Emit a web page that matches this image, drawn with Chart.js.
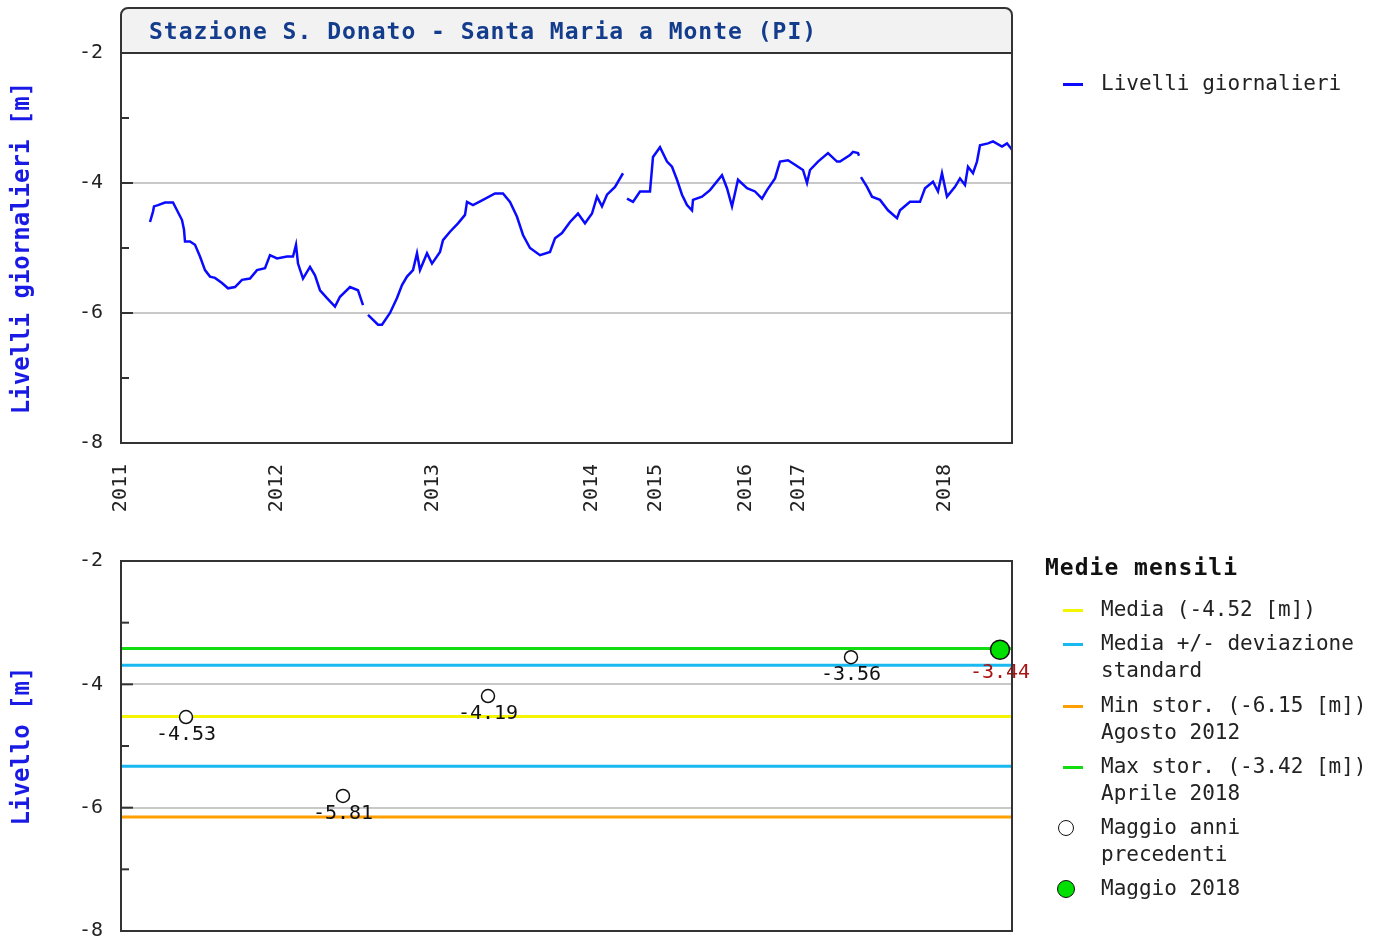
<!DOCTYPE html>
<html>
<head>
<meta charset="utf-8">
<script src="https://cdn.jsdelivr.net/npm/chart.js@4.4.1/dist/chart.umd.min.js"></script>
<style>
  body { margin: 0; background: #fff; overflow: hidden; }
  #wrap { position: relative; width: 1382px; height: 943px; overflow: hidden; font-family: "DejaVu Sans Mono", monospace; color: #222; }
  canvas { position: absolute; left: 0; }
  .leg { position: absolute; font-size: 21px; line-height: 27px; white-space: pre; }
  .sw { position: absolute; width: 20px; height: 3px; }
  .dot { position: absolute; border-radius: 50%; box-sizing: border-box; border: 1.5px solid #111; }
</style>
</head>
<body>
<div id="wrap">
  <canvas id="chart-daily" width="1382" height="530" style="top:0"></canvas>
  <canvas id="chart-monthly" width="1382" height="431" style="top:530px"></canvas>

  <!-- legenda grafico giornaliero -->
  <div class="sw" style="left:1063px;top:83px;background:#0a0aff"></div>
  <div class="leg" style="left:1101px;top:70px">Livelli giornalieri</div>

  <!-- legenda medie mensili -->
  <div class="leg" style="left:1045px;top:554px;font-weight:bold;font-size:23px;letter-spacing:1px;color:#111">Medie mensili</div>
  <div class="sw" style="left:1063px;top:609px;background:#f5f500"></div>
  <div class="leg" style="left:1101px;top:596px">Media (-4.52 [m])</div>
  <div class="sw" style="left:1063px;top:643px;background:#18b8f0"></div>
  <div class="leg" style="left:1101px;top:630px">Media +/- deviazione
standard</div>
  <div class="sw" style="left:1063px;top:705px;background:#ffa000"></div>
  <div class="leg" style="left:1101px;top:692px">Min stor. (-6.15 [m])
Agosto 2012</div>
  <div class="sw" style="left:1063px;top:766px;background:#11dd11"></div>
  <div class="leg" style="left:1101px;top:753px">Max stor. (-3.42 [m])
Aprile 2018</div>
  <div class="dot" style="left:1058px;top:820px;width:16px;height:16px;background:#fff"></div>
  <div class="leg" style="left:1101px;top:814px">Maggio anni
precedenti</div>
  <div class="dot" style="left:1057px;top:880px;width:18px;height:18px;background:#00e000"></div>
  <div class="leg" style="left:1101px;top:875px">Maggio 2018</div>
</div>

<script>
// --- dati: livelli giornalieri (indice progressivo delle registrazioni) ---
const indiceGiorni = [
  29, 32, 33, 37, 44, 52, 56, 61, 63, 64, 69, 74, 79, 84, 89, 94, 101, 107, 114, 121,
  129, 136, 144, 149, 156, 166, 172, 175, 177, 182, 189, 194, 199, 206, 214, 219, 229, 237, 242,
  244,
  247, 257, 261, 269, 276, 281, 286, 292, 296, 299, 306, 311, 319, 322, 329, 337, 344, 346, 352,
  362, 374, 382, 389, 396, 402, 409, 419, 429, 434, 441, 449, 457, 464, 471, 476, 481, 486, 494, 502,
  504,
  506, 512, 519, 529, 532, 539, 546, 551, 556, 561, 566, 571, 572, 581, 589, 601, 606, 611, 617,
  626, 634, 641, 646, 654, 659, 667, 674, 682, 686, 689, 697, 707, 716, 719, 729, 732, 737, 738,
  739,
  740, 746, 751, 759, 767, 776, 779, 789, 799, 804, 812, 817, 821, 826, 834, 839, 844, 847, 852,
  856, 859, 867, 872, 881, 886, 891
];
const livelliGiornalieri = [
  -4.60, -4.44, -4.36, -4.34, -4.30, -4.30, -4.42, -4.57, -4.72, -4.90, -4.90, -4.95, -5.13, -5.34, -5.44, -5.46, -5.54, -5.62, -5.60, -5.49,
  -5.47, -5.34, -5.31, -5.11, -5.16, -5.13, -5.13, -4.95, -5.24, -5.47, -5.29, -5.42, -5.65, -5.77, -5.90, -5.75, -5.60, -5.65, -5.88,
  null,
  -6.03, -6.18, -6.18, -6.00, -5.77, -5.57, -5.44, -5.34, -5.08, -5.34, -5.08, -5.24, -5.06, -4.88, -4.75, -4.62, -4.49, -4.29, -4.34,
  -4.26, -4.16, -4.16, -4.29, -4.52, -4.80, -5.00, -5.11, -5.06, -4.85, -4.77, -4.60, -4.47, -4.62, -4.47, -4.21, -4.36, -4.18, -4.06, -3.85,
  null,
  -4.24, -4.29, -4.13, -4.13, -3.60, -3.45, -3.67, -3.75, -3.95, -4.18, -4.34, -4.42, -4.26, -4.21, -4.11, -3.88, -4.08, -4.36, -3.95,
  -4.08, -4.13, -4.24, -4.11, -3.93, -3.67, -3.65, -3.72, -3.80, -4.00, -3.80, -3.67, -3.54, -3.67, -3.67, -3.57, -3.52, -3.54, -3.58,
  null,
  -3.91, -4.06, -4.21, -4.26, -4.42, -4.54, -4.42, -4.29, -4.29, -4.08, -3.98, -4.13, -3.85, -4.21, -4.06, -3.93, -4.03, -3.75, -3.85,
  -3.67, -3.42, -3.39, -3.36, -3.44, -3.39, -3.49
];
const anniEtichette = ['2011', '2012', '2013', '2014', '2015', '2016', '2017', '2018'];
const anniIndice = [0, 156, 312, 471, 535, 625, 678, 824];

// --- dati: medie mensili di maggio ---
const maggioAnni = [2011, 2012, 2013, 2017, 2018];
const maggioIndice = [65, 222, 367, 730, 879];
const maggioLivelli = [-4.53, -5.81, -4.19, -3.56, -3.44];
const media = -4.52;
const mediaPiuDev = -3.69;
const mediaMenoDev = -5.33;
const minStorico = -6.15;
const maxStorico = -3.42;

const FONT = '"DejaVu Sans Mono", monospace';
const X_MAX = 891;

// griglia solo sui valori pari, tacche interne su tutti gli interi
function gridColor(c) {
  const v = c.tick.value;
  if (v === -2 || v === -8) return 'rgba(0,0,0,0)';
  return v % 2 === 0 ? '#c8c8c8' : 'rgba(0,0,0,0)';
}

const boxPlugin = {
  id: 'box',
  beforeDraw(chart, args, opts) {
    const { ctx, chartArea: a } = chart;
    if (opts.title) {
      ctx.save();
      ctx.fillStyle = '#f2f2f2';
      ctx.beginPath();
      ctx.roundRect(a.left, 8, a.right - a.left, a.top - 8, [7, 7, 0, 0]);
      ctx.fill();
      ctx.restore();
    }
  },
  afterDraw(chart, args, opts) {
    const { ctx, chartArea: a } = chart;
    ctx.save();
    ctx.strokeStyle = '#333';
    ctx.lineWidth = 2;
    // tacche interne dell'asse y
    chart.scales.y.ticks.forEach(t => {
      const py = chart.scales.y.getPixelForValue(t.value);
      const len = t.value % 2 === 0 ? 12 : 8;
      ctx.beginPath();
      ctx.moveTo(a.left, py);
      ctx.lineTo(a.left + len, py);
      ctx.stroke();
    });
    ctx.beginPath();
    if (opts.title) {
      ctx.roundRect(a.left, 8, a.right - a.left, a.bottom - 8, [7, 7, 0, 0]);
      ctx.moveTo(a.left, a.top);
      ctx.lineTo(a.right, a.top);
    } else {
      ctx.rect(a.left, a.top, a.right - a.left, a.bottom - a.top);
    }
    ctx.stroke();
    if (opts.title) {
      ctx.fillStyle = '#143c8c';
      ctx.font = 'bold 23px ' + FONT;
      ctx.letterSpacing = '1px';
      ctx.textBaseline = 'middle';
      ctx.fillText(opts.title, 149, 33);
    }
    ctx.restore();
  }
};

const pointLabels = {
  id: 'pointLabels',
  afterDatasetsDraw(chart) {
    const { ctx } = chart;
    const meta = chart.getDatasetMeta(0);
    ctx.save();
    ctx.font = '20px ' + FONT;
    ctx.textAlign = 'center';
    ctx.textBaseline = 'middle';
    meta.data.forEach((el, i) => {
      const ultimo = i === maggioLivelli.length - 1;
      ctx.fillStyle = ultimo ? '#a81414' : '#111';
      ctx.fillText(maggioLivelli[i].toFixed(2), el.x, el.y + (ultimo ? 23 : 18));
    });
    ctx.restore();
  }
};

function yScale(titolo) {
  return {
    min: -8, max: -2,
    ticks: {
      stepSize: 1, color: '#222', padding: 18,
      font: { family: FONT, size: 20 },
      callback: v => (v % 2 === 0 ? String(v) : '')
    },
    grid: { color: gridColor, lineWidth: 2, drawTicks: false },
    border: { display: false },
    title: {
      display: true, text: titolo, color: '#1a1ae6',
      font: { family: FONT, size: 24, weight: 'bold' },
      padding: { top: 8, bottom: 0 }
    },
    afterFit: s => { s.width = 121; }
  };
}

// --- grafico 1: livelli giornalieri ---
new Chart(document.getElementById('chart-daily'), {
  type: 'line',
  data: {
    datasets: [{
      label: 'Livelli giornalieri',
      data: indiceGiorni.map((x, i) => ({ x: x, y: livelliGiornalieri[i] })),
      borderColor: '#0a0aff',
      borderWidth: 2.5,
      pointRadius: 0,
      tension: 0,
      spanGaps: false
    }]
  },
  options: {
    responsive: false,
    animation: false,
    layout: { padding: { top: 53, right: 370, left: 0, bottom: 0 } },
    plugins: { legend: { display: false }, tooltip: { enabled: false }, box: { title: 'Stazione S. Donato - Santa Maria a Monte (PI)' } },
    scales: {
      x: {
        type: 'linear', min: 0, max: X_MAX,
        afterBuildTicks: s => { s.ticks = anniIndice.map(v => ({ value: v })); },
        ticks: {
          autoSkip: false, minRotation: 90, maxRotation: 90, padding: 13,
          color: '#222', font: { family: FONT, size: 20 },
          callback: (v, i) => anniEtichette[i]
        },
        grid: { display: false },
        border: { display: false },
        afterFit: s => { s.height = 87; }
      },
      y: yScale('Livelli giornalieri [m]')
    }
  },
  plugins: [boxPlugin]
});

// --- grafico 2: medie mensili ---
const linea = (v, colore) => ({
  data: [{ x: 0, y: v }, { x: X_MAX, y: v }],
  borderColor: colore, borderWidth: 3, pointRadius: 0, showLine: true, order: 2
});

new Chart(document.getElementById('chart-monthly'), {
  type: 'scatter',
  data: {
    datasets: [
      {
        label: 'Maggio',
        data: maggioIndice.map((x, i) => ({ x: x, y: maggioLivelli[i] })),
        pointRadius: maggioAnni.map(a => (a === 2018 ? 9.5 : 6.5)),
        pointBackgroundColor: maggioAnni.map(a => (a === 2018 ? '#00e000' : '#fff')),
        pointBorderColor: '#111',
        pointBorderWidth: 1.5,
        order: 0
      },
      linea(maxStorico, '#11dd11'),
      linea(mediaPiuDev, '#18b8f0'),
      linea(media, '#f5f500'),
      linea(mediaMenoDev, '#18b8f0'),
      linea(minStorico, '#ffa000')
    ]
  },
  options: {
    responsive: false,
    animation: false,
    layout: { padding: { top: 31, right: 370, left: 0, bottom: 13 } },
    plugins: { legend: { display: false }, tooltip: { enabled: false }, box: {} },
    scales: {
      x: { type: 'linear', min: 0, max: X_MAX, display: false },
      y: yScale('Livello [m]')
    }
  },
  plugins: [boxPlugin, pointLabels]
});
</script>
</body>
</html>
